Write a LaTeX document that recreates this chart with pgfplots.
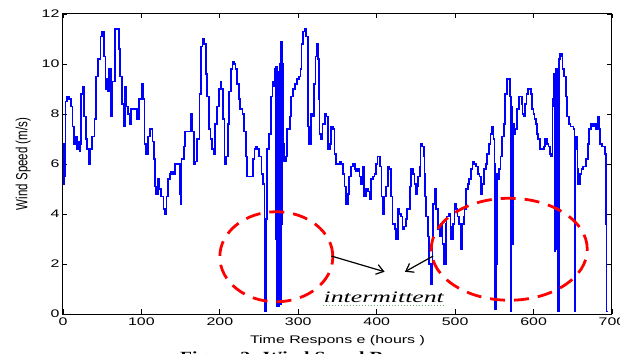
\documentclass[border=0pt]{standalone}
\usepackage{pgfplots}
\pgfplotsset{compat=1.18}
\usepackage{fontspec}
\usetikzlibrary{arrows.meta}
\setmainfont{Liberation Sans}[FakeStretch=1.45]
\newfontfamily\ylfont{Liberation Sans}
\newfontfamily\serifit{Liberation Serif}[FakeStretch=1.4]
\newfontfamily\capfont{Liberation Serif}[FakeStretch=1.4]
\definecolor{squig}{RGB}{110,180,110}
\pgfplotstableread{
x y
0 5.2
1 6.8
2 5.5
3 8.5
5 8.7
8 8.6
10 8.3
12 7.5
14 6.8
16 7.1
18 6.6
20 6.9
21 6.5
22 6.8
23 8.8
25 9.1
27 7.9
29 7.0
31 6.6
33 6.0
35 6.6
37 7.1
40 7.8
42 9.5
45 10.2
48 11.1
50 11.3
52 10.3
54 9.0
55 9.4
57 8.9
59 9.8
61 7.9
63 9.3
66 11.4
71 10.6
73 9.5
75 8.4
77 7.5
79 9.1
81 8.3
83 8.0
85 7.6
87 8.2
91 8.2
94 7.8
97 8.6
100 9.2
102 8.6
104 6.8
106 6.4
108 7.1
111 7.4
114 6.9
116 6.2
117 5.1
119 4.8
121 5.4
123 5.0
125 4.7
128 4.2
130 4.0
132 4.7
134 5.4
136 5.6
138 5.7
140 5.6
143 6.0
146 6.0
149 4.8
150 4.4
151 6.2
154 6.7
156 7.3
160 7.3
163 8.0
165 7.3
167 6.0
169 6.1
171 7.0
174 8.8
176 10.7
178 11.0
180 10.8
182 9.6
184 8.7
186 7.4
188 7.0
190 6.6
192 6.4
194 7.6
196 8.3
199 9.0
201 9.3
202 9.0
204 7.8
206 6.0
208 6.3
210 7.6
212 8.9
214 9.8
216 10.1
218 10.0
220 9.8
222 9.2
224 8.6
226 8.2
229 8.0
231 7.3
233 6.3
235 5.5
239 5.5
242 6.2
244 6.6
246 6.7
248 6.6
250 6.3
253 5.6
255 5.2
257 3.4
258 0.1
259 3.8
260 6.6
263 7.2
265 8.7
267 9.3
269 9.1
270 9.8
271 3.0
272 9.9
273 0.3
274 9.7
275 0.3
276 10.0
277 0.4
278 10.9
279 3.6
280 10.0
281 6.8
282 6.1
284 6.3
286 7.4
289 7.9
291 8.7
293 9.0
296 9.2
298 9.4
301 9.5
303 9.8
304 10.8
306 11.3
308 11.4
310 11.1
312 7.5
314 6.8
316 8.0
318 7.9
320 9.2
322 10.3
324 10.8
325 10.2
326 8.6
327 7.2
329 7.0
331 7.6
334 8.0
336 7.9
338 6.6
340 6.8
342 7.5
344 7.4
346 6.4
348 6.0
353 6.1
355 6.0
357 5.6
359 5.1
361 4.4
363 4.8
365 5.5
367 5.9
370 6.0
372 5.8
374 5.7
376 5.8
378 5.5
380 5.2
382 5.9
384 4.7
386 5.0
389 4.9
391 4.6
393 5.4
395 5.5
397 5.6
399 6.0
401 6.3
404 5.9
406 4.7
408 4.0
410 4.7
412 5.1
414 5.9
416 5.8
418 4.7
420 3.6
423 3.4
425 3.0
427 4.2
429 4.0
431 3.9
433 3.4
435 3.5
437 3.8
439 4.2
442 5.1
444 5.8
446 5.6
448 5.2
450 4.8
451 5.1
453 5.5
455 5.9
456 6.8
458 6.7
460 6.3
461 5.6
462 4.7
463 3.9
465 3.1
467 2.0
469 1.2
471 3.0
472 4.4
474 5.0
476 4.2
478 3.4
480 3.1
482 3.6
484 2.8
486 2.0
488 3.6
489 3.9
492 4.0
494 3.5
495 3.0
497 3.6
499 4.4
501 4.2
503 3.9
505 3.6
507 2.6
509 3.6
511 3.9
512 4.2
514 5.0
516 5.2
518 5.4
520 5.8
522 6.1
524 6.0
527 5.9
529 5.6
531 5.5
533 4.8
535 5.2
537 5.8
539 6.0
541 6.4
543 6.8
545 7.2
547 7.5
549 7.0
550 6.0
551 0.2
552 2.0
553 5.6
555 5.4
556 5.8
558 6.3
560 7.1
562 7.6
564 8.8
566 9.4
568 9.4
570 8.7
571 0.1
572 8.3
573 2.8
574 7.6
575 7.2
577 7.4
579 8.2
581 8.7
584 8.7
585 8.4
586 8.0
588 7.9
589 8.4
591 8.8
593 9.0
595 9.0
597 8.8
598 8.2
600 8.0
601 7.8
603 7.6
604 7.2
606 7.0
608 6.6
611 6.6
613 6.7
615 7.0
617 6.8
619 6.7
621 6.4
622 6.3
624 8.3
625 8.6
626 9.6
627 2.5
628 9.5
629 9.8
630 2.6
631 0.1
632 10.2
634 10.4
636 10.3
637 9.8
639 9.5
641 8.7
643 7.9
645 7.6
647 7.5
649 7.5
651 7.4
652 0.1
653 7.1
655 6.6
656 5.8
657 5.2
659 5.6
661 5.8
663 5.9
665 5.9
667 6.2
669 6.8
671 7.4
673 7.6
675 7.5
677 7.6
680 7.4
682 7.9
683 7.4
685 6.8
687 6.7
689 6.7
691 6.4
692 3.6
693 0.1
694 0.1
}\wind
\begin{document}
\begin{tikzpicture}
\begin{axis}[
  name=ax, at={(0,0)}, anchor=south west,
  scale only axis, width=549pt, height=300pt,
  xmin=0, xmax=700, ymin=0, ymax=12,
  xtick={0,100,...,700}, ytick={0,2,...,12},
  tick align=inside, tick pos=both, major tick length=4.5pt,
  axis line style={line width=1pt},
  every tick/.style={black, line width=0.8pt},
  /pgf/number format/assume math mode=true,
  ticklabel style={font=\fontsize{11}{13}\selectfont},
  xlabel={Time Respons e (hours )},
  ylabel={Wind Speed (m/s)},
  xlabel style={font=\fontsize{11}{13}\selectfont, yshift=-3pt},
  ylabel style={font=\ylfont\fontsize{11.5}{13}\selectfont, yscale=1.4, yshift=2pt},
  clip=false,
]
\addplot[const plot, blue, line width=1.7pt] table[x=x, y=y] {\wind};
\draw[red, line width=2.8pt, dash pattern=on 15pt off 9pt] (axis cs:272,2.29) ellipse [x radius=56.5pt, y radius=45pt];
\draw[red, line width=2.8pt, dash pattern=on 15pt off 9pt] (axis cs:569,2.59) ellipse [x radius=78pt, y radius=51pt];
\draw[-{Straight Barb[length=7pt,width=10pt]}, line width=1.2pt] (axis cs:342,2.32) -- (axis cs:410,1.69);
\draw[-{Straight Barb[length=7pt,width=10pt]}, line width=1.2pt] (axis cs:472,2.32) -- (axis cs:436,1.69);
\draw[squig, dotted, line width=1pt] (axis cs:331,0.36) -- (axis cs:486,0.36);
\node[anchor=base, font=\serifit\itshape\fontsize{16}{18}\selectfont, inner sep=0pt] at (axis cs:409,0.45) {\scalebox{1.15}[1]{intermittent}};
\end{axis}
\node[anchor=base west, font=\capfont\bfseries\fontsize{14}{16}\selectfont, inner sep=0pt] at (117pt,-47.5pt) {Figure 2: Wind Speed Response};
\pgfresetboundingbox
\path[use as bounding box] (-63pt,-39pt) rectangle (557pt,314pt);
\end{tikzpicture}
\end{document}
